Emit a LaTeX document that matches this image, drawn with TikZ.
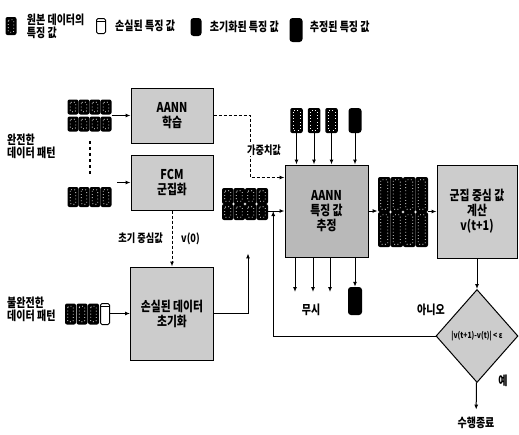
\documentclass[tikz,border=0pt]{standalone}
\usepackage{fontspec}
\setmainfont{Noto Sans CJK KR}[FakeStretch=0.8]
\usetikzlibrary{arrows.meta,positioning,shapes.geometric,fit,calc}

\begin{document}
\begin{tikzpicture}[x=1pt,y=-1pt,font=\bfseries\fontsize{12.5}{13}\selectfont,
  bx/.style={draw,line width=1pt,fill=gray!40,align=center,inner sep=2pt,font=\bfseries\fontsize{13.5}{15}\selectfont},
  orig/.style={fill=black,rounded corners=2pt,inner sep=0,minimum width=11pt,minimum height=15pt,
    path picture={\draw[white,line width=0.7pt,dash pattern=on 0.8pt off 2.4pt,rounded corners=1pt]
      ([shift={(2.8pt,-2.8pt)}]path picture bounding box.north west) rectangle ([shift={(-2.8pt,2.8pt)}]path picture bounding box.south east);}},
  lost/.style={draw,line width=1pt,fill=white,rounded corners=1.5pt,inner sep=0,minimum width=9pt,minimum height=15pt,
    path picture={\draw ([yshift=-3pt]path picture bounding box.north west) -- ([yshift=-3pt]path picture bounding box.north east);}},
  init/.style={fill=black,rounded corners=3pt,inner sep=0,minimum width=11pt,minimum height=18pt},
  arr/.style={-{Latex[length=5pt,width=4pt]},line width=1pt},
  dsh/.style={arr,dash pattern=on 3pt off 2pt},
  lbl/.style={align=left,inner sep=1pt},
  dia/.style={diamond,draw,line width=1pt,fill=gray!40,inner sep=0,minimum width=82pt,minimum height=93pt,
    font=\bfseries\fontsize{8.5}{9}\selectfont}]
\useasboundingbox (0,0) rectangle (519,434);
% legend
\node[orig,minimum height=18pt] (lg1) at (11,26) {};
\node[lbl,right=9pt of lg1] (lt1) {원본 데이터의\\특징 값};
\node[lost] (lg2) at (101,26) {};
\node[lbl,right=8pt of lg2] (lt2) {손실된 특징 값};
\node[init] (lg3) at (196,27) {};
\node[lbl,right=7pt of lg3] (lt3) {초기화된 특징 값};
\node[init,minimum width=13pt,minimum height=24pt] (lg4) at (296,30) {};
\node[lbl,right=6pt of lg4,yshift=3pt] (lt4) {추정된 특징 값};
% data patterns
\node[lbl,anchor=west] (lcp) at (6,146) {완전한\\데이터 패턴};
\node[lbl,anchor=west] (lip) at (6,309) {불완전한\\데이터 패턴};
\foreach \r/\yy in {1/107,2/124}
  \foreach \k in {1,...,4}
    \node[orig] (a\r\k) at (62+11*\k,\yy) {};
\node[fit=(a11)(a24),inner sep=0] (cpA) {};
\draw[line width=2pt,dash pattern=on 3pt off 3pt] (cpA.south) ++(0,9) -- ++(0,36);
\foreach \k in {1,...,4}
  \node[orig,minimum height=20pt] (p\k) at (62+11*\k,197) {};
\node[fit=(p1)(p4),inner sep=0] (cpB) {};
\foreach \k/\s in {1/orig,2/orig,3/orig,4/lost}
  \node[\s,minimum height=21pt] (q\k) at (59+11.5*\k,314) {};
\node[fit=(q1)(q4),inner sep=0] (ipat) {};
% boxes
\node[bx,minimum width=82pt,minimum height=55pt] (train) at (172,115.5) {AANN\\학습};
\node[bx,minimum width=82pt,minimum height=55pt] (clust) at (172,182.5) {FCM\\군집화};
\node[bx,minimum width=83pt,minimum height=93pt] (initb) at (172,313.5) {손실된 데이터\\초기화};
\node[bx,fill=gray!55,minimum width=83pt,minimum height=92pt] (estim) at (326.5,211) {AANN\\특징 값\\추정};
\node[bx,minimum width=80pt,minimum height=93pt] (cen) at (477,211.5) {군집 중심 값\\계산\\v(t+1)};
\node[dia] (cv) at (477,336) {|v(t+1)-v(t)| < ε};
% initialized and estimated patterns
\foreach \r/\yy in {1/196,2/212}
  \foreach \k in {1,...,4}
    \node[orig,minimum width=11.5pt,minimum height=16pt] (c\r\k) at (216.25+11.5*\k,\yy) {};
\node[fit=(c11)(c24),inner sep=0] (ini) {};
\foreach \r/\yy in {1/194.5,2/229.5}
  \foreach \k in {1,...,4}
    \node[orig,minimum width=12.5pt,minimum height=35pt] (e\r\k) at (371.75+12.5*\k,\yy) {};
\node[fit=(e11)(e24),inner sep=0] (est) {};
% inputs and outputs of the estimator
\foreach \k/\xx in {1/296.5,2/314,3/331.5}
  \node[orig,minimum width=12.5pt,minimum height=25pt] (u\k) at (\xx,120.5) {};
\node[init,minimum width=13pt,minimum height=25pt] (u4) at (355,120.5) {};
\foreach \k in {1,...,4}
  \draw[arr] (u\k) -- (u\k |- estim.north);
\foreach \k/\xx in {1/295,2/313,3/330}{
  \coordinate (o\k) at (\xx,292);
  \draw[arr] (o\k |- estim.south) -- (o\k);}
\node[init,minimum width=14pt,minimum height=28pt] (o4) at (355,301) {};
\draw[arr] (o4 |- estim.south) -- (o4);
\node (ign) at (311,310) {무시};
% connectors
\coordinate (cpin) at (117,182.5);
\draw[arr] (cpA.east |- train.west) -- (train.west);
\draw[arr] (cpin) -- (clust.west);
\draw[arr] (ipat.east |- initb.west) -- (initb.west);
\draw[dsh] (train.east) -- ++(37,0) |- ([yshift=-13pt]estim.north west);
\node[fill=white,inner sep=1pt,font=\bfseries\fontsize{11.5}{12}\selectfont] (wlbl) at (264,150) {가중치값};
\draw[dsh] (clust.south) -- (initb.north);
\coordinate (c0) at ($(clust.south)!.5!(initb.north)$);
\node[left=9pt of c0,inner sep=0,font=\bfseries\fontsize{11.5}{12}\selectfont] (l0) {초기 중심값};
\node[right=9pt of c0,inner sep=0,font=\bfseries\fontsize{11.5}{12}\selectfont] (v0) {v(0)};
\draw[arr,shorten >=33pt] (initb.east) -| ([xshift=3pt]ini.south);
\draw[arr] (ini.east |- estim.west) -- (estim.west);
\coordinate (jn) at ($(ini.east |- estim.west)!0.3!(estim.west)$);
\draw[arr] (estim.east) -- (estim.east -| est.west);
\draw[arr] (est.east |- cen.west) -- (cen.west);
\draw[arr] (cen) -- (cv);
\draw[arr] (cv.west) -| (jn);
\node (no) at (431,310) {아니오};
\node (yes) at (503,381) {예};
\node (fin) at (476,423) {수행종료};
\draw[arr,shorten >=4pt] (cv) -- (fin);
\end{tikzpicture}
\end{document}
